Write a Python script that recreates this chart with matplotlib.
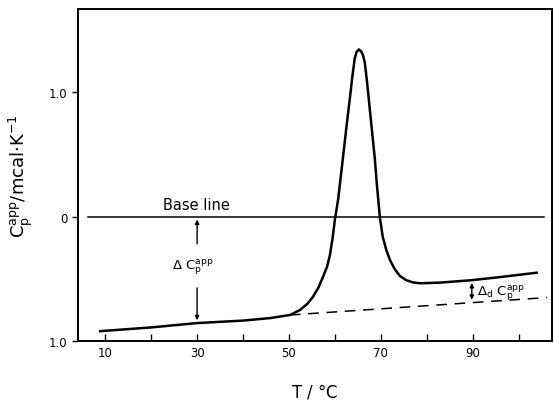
import matplotlib
matplotlib.use("Agg")
import matplotlib.pyplot as plt

# heat capacity curve (T in degC, Cp app in mcal/K)
temp = [8.9, 20.0, 30.0, 40.0, 45.9, 50.2, 52.4, 54.0, 55.2, 56.4, 57.4, 58.3,
        58.9, 59.5, 60.0, 60.7, 61.7, 62.5, 63.3, 63.8, 64.3, 64.7, 65.2,
        65.7, 66.1, 66.5, 67.0, 67.6, 68.7, 69.1, 69.8, 70.4, 71.2, 72.0,
        73.0, 74.1, 75.5, 77.0, 78.5, 82.8, 89.8, 96.0, 103.9]
cp = [-0.92, -0.89, -0.855, -0.835, -0.815, -0.79, -0.75, -0.70, -0.645,
      -0.57, -0.484, -0.40, -0.31, -0.17, -0.02, 0.14, 0.46, 0.72, 0.968,
      1.13, 1.27, 1.325, 1.345, 1.33, 1.30, 1.24, 1.08, 0.86, 0.46, 0.27,
      -0.01, -0.16, -0.27, -0.35, -0.42, -0.475, -0.51, -0.528, -0.535,
      -0.53, -0.51, -0.485, -0.45]

# extrapolated native-state line (dashed)
dash_t = [50.2, 106.1]
dash_cp = [-0.79, -0.65]

base_t = [6.3, 105.6]
x_ticks = [10, 20, 30, 40, 50, 60, 70, 80, 90, 100]
x_labels = ["10", "", "30", "", "50", "", "70", "", "90", ""]
y_ticks = [-1.0, 0.0, 1.0]
y_labels = ["1.0", "0", "1.0"]

fig = plt.figure(figsize=(5.54, 4.02), dpi=100)
ax = fig.add_axes([0.141, 0.149, 0.855, 0.826])

ax.plot(temp, cp, color="black", lw=1.8, solid_joinstyle="round")
ax.plot(dash_t, dash_cp, color="black", lw=1.1, dashes=(7, 5))
ax.plot(base_t, [0, 0], color="black", lw=1.1)

# Delta Cp arrow at 30 degC, split around its label
arr = dict(arrowstyle="-|>", color="black", lw=1.0, mutation_scale=6)
ax.annotate("", xy=(30, 0.0), xytext=(30, -0.24), arrowprops=arr)
ax.annotate("", xy=(30, -0.855), xytext=(30, -0.55), arrowprops=arr)
ax.text(29, -0.40, r"$\Delta\ \mathrm{C_p^{app}}$", ha="center", va="center",
        fontsize=9.5)

# Delta_d Cp arrow at 90 degC
arr2 = dict(arrowstyle="<|-|>", color="black", lw=1.0, mutation_scale=6)
ax.annotate("", xy=(89.8, -0.51), xytext=(89.8, -0.69), arrowprops=arr2)
ax.text(91, -0.61, r"$\Delta_\mathrm{d}\ \mathrm{C_p^{app}}$", ha="left",
        va="center", fontsize=9.5)

ax.text(29.8, 0.1, "Base line", ha="center", va="center", fontsize=10.5)

ax.set_xlim(4.1, 107.2)
ax.set_ylim(-1.0, 1.67)
ax.set_xticks(x_ticks)
ax.set_xticklabels(x_labels)
ax.set_yticks(y_ticks)
ax.set_yticklabels(y_labels)
ax.tick_params(axis="x", direction="in", length=5, width=1.0, labelsize=8.5)
ax.tick_params(axis="y", direction="out", length=4, width=1.0, labelsize=8.5)
for s in ax.spines.values():
    s.set_linewidth(1.4)

ax.set_xlabel(r"T / $\degree$C", fontsize=12, labelpad=16)
ax.set_ylabel(r"$\mathrm{C_p^{app}}$/mcal$\cdot$K$^{-1}$", fontsize=13,
              labelpad=10)

fig.savefig("out.png", dpi=100)
